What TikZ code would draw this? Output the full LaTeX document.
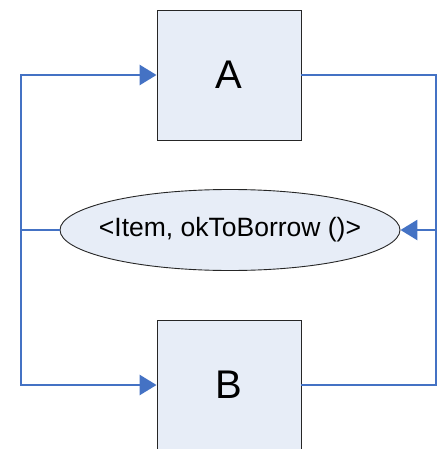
\documentclass[tikz,border=0pt]{standalone}
\usepackage{fontspec}
\setmainfont{Liberation Sans}
\usetikzlibrary{arrows.meta,shapes.geometric}
\definecolor{flowblue}{HTML}{4472C4}
\definecolor{boxfill}{HTML}{E7EDF7}

\begin{document}
\begin{tikzpicture}[x=1pt,y=-1pt,
        block/.style={draw=black!85,line width=0.9pt,fill=boxfill,minimum width=144pt,minimum height=130pt,inner sep=0pt,font=\fontsize{40}{40}\selectfont},
        msg/.style={ellipse,draw=black!85,line width=0.9pt,fill=boxfill,minimum width=340pt,minimum height=81pt,inner xsep=-13pt,inner ysep=0pt,font=\fontsize{26.5}{26.5}\selectfont},
        flow/.style={draw=flowblue,line width=2.8pt},
        tip/.style={-{Triangle[length=17pt,width=20pt]}}]
            \useasboundingbox (0,0) rectangle (438,449);

            \node[block] (A) at (229,75) {A};
            \node[block] (B) at (229,385) {B};
            \node[msg] (E) at (230,230) {<Item, okToBorrow ()>};

            \coordinate (lc) at (21,230);
            \coordinate (rc) at (436,230);

            \draw[flow,tip] (E.west) -- (lc) |- (A.west);
            \draw[flow,tip] (lc) |- (B.west);
            \draw[flow,tip] (A.east) -| (rc) -- (E.east);
            \draw[flow] (B.east) -| (rc);
        \end{tikzpicture}
\end{document}
